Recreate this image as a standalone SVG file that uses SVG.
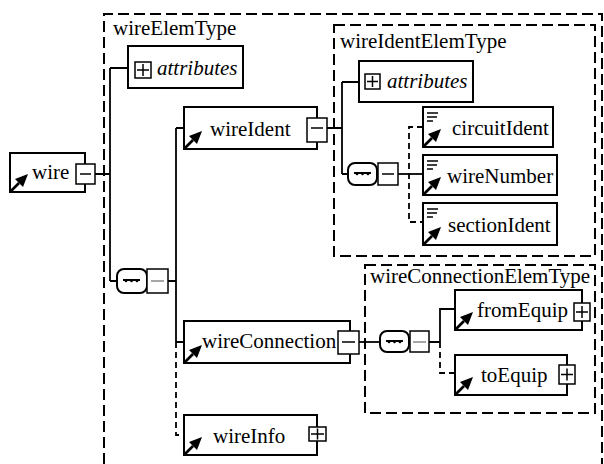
<svg xmlns="http://www.w3.org/2000/svg" xmlns:xlink="http://www.w3.org/1999/xlink" width="604" height="464" viewBox="0 0 604 464">
<style>
text{font-family:"Liberation Serif","Times New Roman",serif;font-size:21px;fill:#000}
.it{font-style:italic}
.box{fill:#fff;stroke:#000;stroke-width:2}
.btn{fill:#fff;stroke:#000;stroke-width:1.5}
.sym{stroke:#000;stroke-width:1.5;fill:none}
.gsym{stroke:#888;stroke-width:1.5;fill:none}
.type{fill:none;stroke:#000;stroke-width:2;stroke-dasharray:11 5}
.con{fill:none;stroke:#000;stroke-width:1.8}
.opt{fill:none;stroke:#000;stroke-width:1.8;stroke-dasharray:6 4}
.seq{fill:#fff;stroke:#000;stroke-width:2}
</style>
<defs>
<g id="ref"><path d="M1,-1 L9,-9" stroke="#000" stroke-width="2.6"/><polygon points="18,-18 5,-13 13,-5" fill="#000"/></g>
<g id="txt" stroke="#000" stroke-width="1.6"><path d="M4,6H15M4,10H14M4,14H10"/></g>
<g id="seqi"><path d="M6,0H23" stroke="#000" stroke-width="2"/><circle cx="9" cy="1" r="1.3"/><circle cx="14.5" cy="1" r="1.3"/><circle cx="20" cy="1" r="1.3"/></g>
</defs>

<g id="wireElemType">
<path class="type" d="M104,480V14H602V480"/>
<text x="113" y="35">wireElemType</text>
</g>
<g id="wireIdentElemType">
<rect class="type" x="334" y="25" width="261" height="231"/>
<text x="340" y="48">wireIdentElemType</text>
</g>
<g id="wireConnectionElemType">
<rect class="type" x="365" y="265" width="230" height="148"/>
<text x="370" y="283">wireConnectionElemType</text>
</g>

<g id="connectors">
<path class="con" d="M95,174H110M110,68V281M110,68H128M110,281H117"/>
<path class="con" d="M168,281H176M176,128V342M176,128H184M176,342H184"/>
<path class="opt" d="M176,342V435H184"/>
<path class="con" d="M327,128H342M342,82V174M342,82H359M342,174H348"/>
<path class="con" d="M398,174H423"/>
<path class="opt" d="M423,127H409V222H423"/>
<path class="con" d="M359,342H380"/>
<path class="con" d="M429,342H440M440,342V309H455"/>
<path class="opt" d="M440,342V373H455"/>
</g>

<g id="wire">
<rect class="box" x="10" y="153" width="75" height="39"/>
<use xlink:href="#ref" x="10" y="192"/>
<text x="32" y="179">wire</text>
<rect class="btn" x="76" y="164" width="19" height="20"/>
<path class="sym" d="M80,174H91"/>
</g>

<g id="attributes1">
<rect class="box" x="128" y="46" width="115" height="42"/>
<rect class="btn" x="135" y="62" width="16" height="16"/>
<path class="sym" d="M137,70H149M143,64V76"/>
<text class="it" x="157" y="75">attributes</text>
</g>

<g id="sequence1">
<rect class="seq" x="117" y="269" width="30" height="24" rx="7"/>
<use xlink:href="#seqi" x="117" y="280"/>
<rect class="btn" x="147" y="269" width="21" height="24"/>
<path class="gsym" d="M151,281H164"/>
</g>

<g id="wireIdent">
<rect class="box" x="184" y="107" width="133" height="42"/>
<use xlink:href="#ref" x="184" y="149"/>
<text x="210" y="136">wireIdent</text>
<rect class="btn" x="307" y="118" width="20" height="24"/>
<path class="sym" d="M311,128H323"/>
</g>

<g id="attributes2">
<rect class="box" x="359" y="61" width="114" height="41"/>
<rect class="btn" x="365" y="74" width="15" height="15"/>
<path class="sym" d="M367,81.5H378M372.5,76V87"/>
<text class="it" x="387" y="88">attributes</text>
</g>

<g id="sequence2">
<rect class="seq" x="348" y="163" width="29" height="22" rx="7"/>
<use xlink:href="#seqi" x="348" y="173"/>
<rect class="btn" x="378" y="163" width="20" height="22"/>
<path class="sym" d="M382,174H394"/>
</g>

<g id="circuitIdent">
<rect class="box" x="423" y="107" width="130" height="40"/>
<use xlink:href="#txt" x="423" y="107"/>
<use xlink:href="#ref" x="423" y="147"/>
<text x="452" y="135">circuitIdent</text>
</g>

<g id="wireNumber">
<rect class="box" x="423" y="155" width="134" height="40"/>
<use xlink:href="#txt" x="423" y="155"/>
<use xlink:href="#ref" x="423" y="195"/>
<text x="447" y="183">wireNumber</text>
</g>

<g id="sectionIdent">
<rect class="box" x="423" y="203" width="134" height="42"/>
<use xlink:href="#txt" x="423" y="203"/>
<use xlink:href="#ref" x="423" y="245"/>
<text x="448" y="232">sectionIdent</text>
</g>

<g id="wireConnection">
<rect class="box" x="184" y="321" width="166" height="42"/>
<use xlink:href="#ref" x="184" y="363"/>
<text x="202" y="348">wireConnection</text>
<rect class="btn" x="338" y="331" width="21" height="23"/>
<path class="sym" d="M342,342H355"/>
</g>

<g id="sequence3">
<rect class="seq" x="380" y="331" width="29" height="21" rx="7"/>
<use xlink:href="#seqi" x="380" y="341"/>
<rect class="btn" x="410" y="331" width="19" height="21"/>
<path class="gsym" d="M413,342H426"/>
</g>

<g id="fromEquip">
<rect class="box" x="455" y="290" width="127" height="40"/>
<use xlink:href="#ref" x="455" y="330"/>
<text x="477" y="317">fromEquip</text>
<rect class="btn" x="574" y="303" width="16" height="18"/>
<path class="sym" d="M576,312H588M582,306V318"/>
</g>

<g id="toEquip">
<rect class="box" x="455" y="355" width="112" height="40"/>
<use xlink:href="#ref" x="455" y="395"/>
<text x="481" y="382">toEquip</text>
<rect class="btn" x="559" y="365" width="16" height="19"/>
<path class="sym" d="M561,374.5H573M567,368.5V380.5"/>
</g>

<g id="wireInfo">
<rect class="box" x="184" y="415" width="133" height="40"/>
<use xlink:href="#ref" x="184" y="455"/>
<text x="213" y="443">wireInfo</text>
<rect class="btn" x="309" y="427" width="17" height="14"/>
<path class="sym" d="M311,434H324M317.5,428.5V439.5"/>
</g>
</svg>
